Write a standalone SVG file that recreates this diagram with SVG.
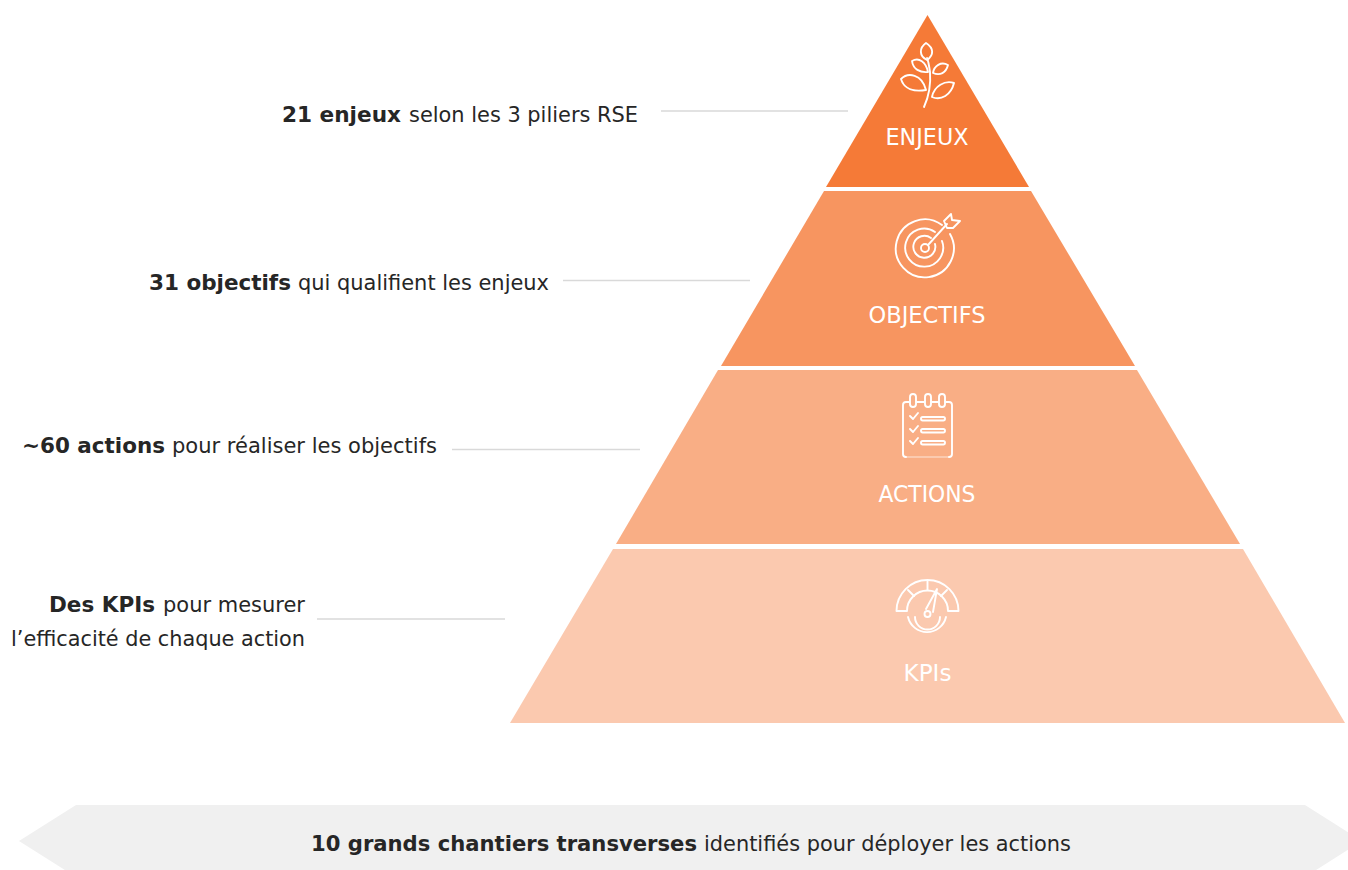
<svg xmlns="http://www.w3.org/2000/svg" width="1348" height="870" viewBox="0 0 1348 870">
<style>
text{font-family:"DejaVu Sans","Liberation Sans",sans-serif}
.lab{font-size:22px;fill:#262626}
.b{font-weight:bold}
.t{font-size:23px;fill:#fff;text-anchor:middle}
.ic{fill:none;stroke:#fff;stroke-width:1.9;stroke-linecap:round;stroke-linejoin:round}
.ld{stroke:#d9d9d9;stroke-width:1.5;fill:none}
</style>
<rect width="1348" height="870" fill="#fff"/>
<g id="node-enjeux">
<polygon points="927.5,15 1029,187 826,187" fill="#f57a37"/>
<g class="ic">
<path d="M924 107C929 96 931 85 930 72C929 65 928 60 927 58"/>
<path d="M926 43C919 48 919 56 927 60C934 55 934 48 926 43Z"/>
<path d="M912 61C919 57 926 62 928 72C920 73 913 69 912 61Z"/>
<path d="M948 65C941 61 934 66 933 73C940 76 946 73 948 65Z"/>
<path d="M901 79C908 72 922 74 926 90C914 92 904 89 901 79Z"/>
<path d="M954 83C945 80 934 86 932 97C941 101 951 95 954 83Z"/>
</g>
<text class="t" x="927" y="145" textLength="83" lengthAdjust="spacingAndGlyphs">ENJEUX</text>
</g>
<g id="node-objectifs">
<polygon points="824,191 1031,191 1135,366 721,366" fill="#f79560"/>
<g class="ic">
<path d="M942 225A29 29 0 1 0 950 234"/>
<path d="M935 232A19 19 0 1 0 942 241"/>
<path d="M931 238A11 11 0 1 0 935 244"/>
<circle cx="925" cy="248" r="4"/>
<path d="M928 245L947 224M944 221L951 214L952 220L960 221L953 228L947 228Z"/>
</g>
<text class="t" x="927" y="323" textLength="117" lengthAdjust="spacingAndGlyphs">OBJECTIFS</text>
</g>
<g id="node-actions">
<polygon points="718,370 1137,370 1240,544 616,544" fill="#f9ae85"/>
<g class="ic">
<path d="M909 402H906Q903 402 903 405V454Q903 457 906 457M949 457Q952 457 952 454V405Q952 402 949 402H946"/>
<path d="M906 457H949" stroke-opacity="0.35"/>
<path d="M917 402H924M932 402H938"/>
<rect x="910" y="394" width="6" height="13" rx="3"/>
<rect x="925" y="394" width="6" height="13" rx="3"/>
<rect x="939" y="394" width="6" height="13" rx="3"/>
<path d="M910 416L913 419L918 413M910 429L913 432L918 426M910 441L913 444L918 438"/>
<rect x="921" y="417" width="24" height="3.500" rx="1.700"/>
<rect x="921" y="429" width="24" height="3.500" rx="1.700"/>
<rect x="921" y="441" width="24" height="3.500" rx="1.700"/>
</g>
<text class="t" x="927" y="502" textLength="97" lengthAdjust="spacingAndGlyphs">ACTIONS</text>
</g>
<g id="node-kpis">
<polygon points="613,549 1243,549 1345,723 510,723" fill="#fbc9af"/>
<g class="ic">
<path d="M896.500 611A31 31 0 0 1 958.500 611H948A20.500 20.500 0 0 0 907 611Z"/>
<path d="M908 590L914 596M927.500 581V590M947 590L941 596"/>
<path d="M926 609L937 589L933 612"/>
<circle cx="927.500" cy="614" r="3"/>
<path d="M908 617A19.500 19.500 0 0 0 946 617M915 617A12.500 12.500 0 0 0 940 617"/>
</g>
<text class="t" x="927.500" y="681" textLength="48" lengthAdjust="spacingAndGlyphs">KPIs</text>
</g>
<g id="connectors">
<line class="ld" x1="661" y1="111" x2="848" y2="111"/>
<line class="ld" x1="563" y1="280.500" x2="750" y2="280.500"/>
<line class="ld" x1="452" y1="449.500" x2="640" y2="449.500"/>
<line class="ld" x1="317" y1="619" x2="505" y2="619"/>
</g>
<g id="label-enjeux">
<text class="lab b" x="282" y="122" textLength="119" lengthAdjust="spacingAndGlyphs">21 enjeux</text>
<text class="lab" x="409" y="122" textLength="229" lengthAdjust="spacingAndGlyphs">selon les 3 piliers RSE</text>
</g>
<g id="label-objectifs">
<text class="lab b" x="149" y="290" textLength="142" lengthAdjust="spacingAndGlyphs">31 objectifs</text>
<text class="lab" x="298" y="290" textLength="251" lengthAdjust="spacingAndGlyphs">qui qualifient les enjeux</text>
</g>
<g id="label-actions">
<text class="lab b" x="22" y="453" textLength="143" lengthAdjust="spacingAndGlyphs">~60 actions</text>
<text class="lab" x="172" y="453" textLength="265" lengthAdjust="spacingAndGlyphs">pour réaliser les objectifs</text>
</g>
<g id="label-kpis">
<text class="lab b" x="49" y="612" textLength="106" lengthAdjust="spacingAndGlyphs">Des KPIs</text>
<text class="lab" x="163" y="612" textLength="142" lengthAdjust="spacingAndGlyphs">pour mesurer</text>
<text class="lab" x="11" y="646" textLength="294" lengthAdjust="spacingAndGlyphs">l’efficacité de chaque action</text>
</g>
<g id="node-chantiers">
<polygon points="19,841 76,805 1305,805 1362,841 1305,877 76,877" fill="#f0f0f0"/>
<text class="lab b" x="311" y="851" textLength="386" lengthAdjust="spacingAndGlyphs">10 grands chantiers transverses</text>
<text class="lab" x="704" y="851" textLength="367" lengthAdjust="spacingAndGlyphs">identifiés pour déployer les actions</text>
</g>
</svg>
